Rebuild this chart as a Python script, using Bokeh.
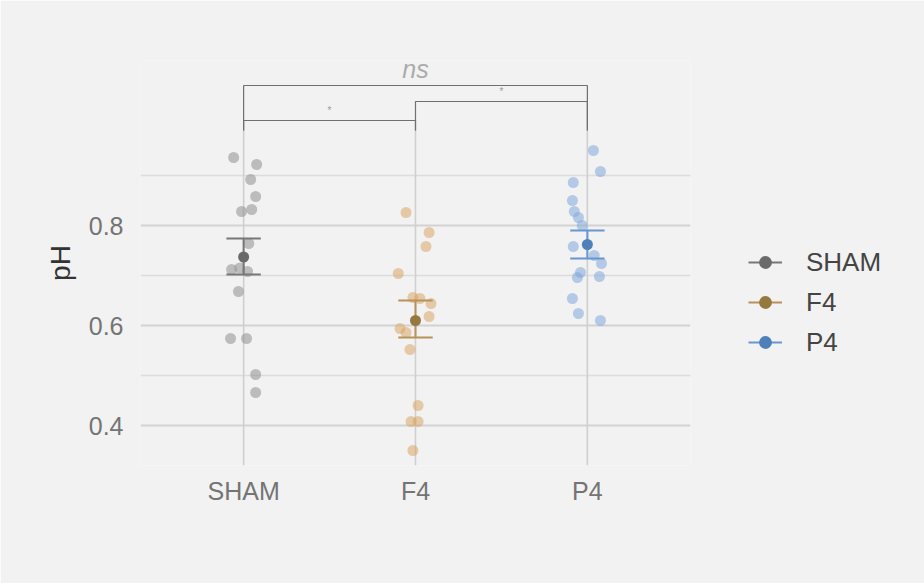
from bokeh.plotting import figure
from bokeh.models import FixedTicker, Range1d, Legend, LegendItem, ColumnDataSource
from bokeh.core.properties import value
from bokeh.embed import file_html
from bokeh.resources import INLINE

# ---------------- data ----------------
groups = ["SHAM", "F4", "P4"]

sham_ph = [0.936, 0.922, 0.892, 0.858, 0.828, 0.832, 0.764, 0.712, 0.715, 0.708,
           0.668, 0.574, 0.574, 0.502, 0.466]
sham_jitter = [-0.058, 0.076, 0.041, 0.070, -0.012, 0.047, 0.030, -0.070, -0.023,
               0.023, -0.030, -0.076, 0.017, 0.070, 0.070]

f4_ph = [0.826, 0.786, 0.758, 0.704, 0.656, 0.654, 0.644, 0.618, 0.594, 0.586,
         0.552, 0.440, 0.408, 0.408, 0.350]
f4_jitter = [-0.055, 0.079, 0.061, -0.100, -0.015, 0.026, 0.090, 0.079, -0.090,
             -0.055, -0.032, 0.015, -0.026, 0.015, -0.015]

p4_ph = [0.950, 0.908, 0.886, 0.850, 0.828, 0.816, 0.800, 0.758, 0.740, 0.724,
         0.706, 0.696, 0.698, 0.654, 0.624, 0.610]
p4_jitter = [0.035, 0.076, -0.082, -0.087, -0.076, -0.052, -0.030, -0.082, 0.040,
             0.082, -0.040, -0.058, 0.070, -0.087, -0.052, 0.076]

group_means = [0.737, 0.610, 0.762]
group_low = [0.702, 0.576, 0.734]
group_high = [0.774, 0.650, 0.790]

bracket_from = ["SHAM", "F4", "SHAM"]
bracket_to = ["F4", "P4", "P4"]
bracket_y = [1.010, 1.048, 1.080]
bracket_labels = ["*", "*", "ns"]

y_ticks = [0.4, 0.6, 0.8]
y_minor = [0.5, 0.7, 0.9]

# ---------------- styles ----------------
BG = "#f2f2f2"
FONT = "Liberation Sans"
point_colors = {"SHAM": "#8f8f8f", "F4": "#dba666", "P4": "#7fa8dc"}
mean_colors = {"SHAM": "#6a6a6a", "F4": "#96793f", "P4": "#4e80ba"}
bar_colors = {"SHAM": "#777777", "F4": "#b8925a", "P4": "#6796d0"}
pos = {g: i + 1 for i, g in enumerate(groups)}
cap_half = 0.1
tip_end = 0.99

p = figure(frame_width=550, frame_height=405, output_backend="svg",
           toolbar_location=None,
           x_range=Range1d(0.4, 3.6), y_range=Range1d(0.32, 1.13),
           min_border_left=140, min_border_right=234, min_border_top=60,
           min_border_bottom=118)
p.background_fill_color = BG
p.border_fill_color = BG
p.outline_line_color = None

# grids
p.xgrid.visible = False
p.ygrid.ticker = FixedTicker(ticks=y_ticks, minor_ticks=y_minor)
p.ygrid.grid_line_color = "#d2d2d2"
p.ygrid.grid_line_width = 2.2
p.ygrid.minor_grid_line_color = "#dcdcdc"
p.ygrid.minor_grid_line_width = 1.6

# vertical category lines
p.segment(x0=[pos[g] for g in groups], x1=[pos[g] for g in groups],
          y0=[0.32] * 3, y1=[tip_end] * 3, line_color="#cfcfcf", line_width=1.6)

# axes
p.xaxis.ticker = FixedTicker(ticks=[pos[g] for g in groups])
p.xaxis.major_label_overrides = {pos[g]: g for g in groups}
p.yaxis.ticker = FixedTicker(ticks=y_ticks)
p.yaxis.major_label_overrides = {t: f"{t:.1f}" for t in y_ticks}
for ax in (p.xaxis[0], p.yaxis[0]):
    ax.axis_line_color = None
    ax.major_tick_line_color = None
    ax.minor_tick_line_color = None
    ax.major_tick_out = 0
    ax.minor_tick_out = 0
    ax.major_label_text_font = FONT
    ax.major_label_text_font_size = "25px"
    ax.major_label_text_color = "#747474"
p.xaxis.major_label_standoff = 11
p.yaxis.major_label_standoff = 17
p.yaxis.axis_label = "pH"
p.yaxis.axis_label_text_font = FONT
p.yaxis.axis_label_text_font_size = "28px"
p.yaxis.axis_label_text_font_style = "normal"
p.yaxis.axis_label_text_color = "#333333"
p.yaxis.axis_label_standoff = 10

# significance brackets
for a, b, yb in zip(bracket_from, bracket_to, bracket_y):
    xa, xb = pos[a], pos[b]
    p.multi_line(xs=[[xa, xa, xb, xb]], ys=[[tip_end, yb, yb, tip_end]],
                 line_color="#707070", line_width=1.2)
lab_x = [(pos[a] + pos[b]) / 2 for a, b in zip(bracket_from, bracket_to)]
star_idx = [i for i, l in enumerate(bracket_labels) if l != "ns"]
ns_idx = [i for i, l in enumerate(bracket_labels) if l == "ns"]
p.text(x=[lab_x[i] for i in star_idx], y=[bracket_y[i] + 0.02 for i in star_idx],
       text=[bracket_labels[i] for i in star_idx], text_align="center",
       text_baseline="middle", text_font=value(FONT), text_font_size="10px",
       text_color="#9a9a9a")
p.text(x=[lab_x[i] for i in ns_idx], y=[bracket_y[i] + 0.006 for i in ns_idx],
       text=[bracket_labels[i] for i in ns_idx], text_align="center",
       text_baseline="bottom", text_font=value(FONT), text_font_size="25px",
       text_font_style="italic", text_color="#ababab")

# points
series = {"SHAM": (sham_ph, sham_jitter), "F4": (f4_ph, f4_jitter), "P4": (p4_ph, p4_jitter)}
for g in groups:
    vals, jit = series[g]
    src = ColumnDataSource(dict(x=[pos[g] + j for j in jit], y=vals))
    p.scatter("x", "y", source=src, size=11, fill_color=point_colors[g],
              fill_alpha=0.55, line_color=None)

# error bars and means
items = []
for i, g in enumerate(groups):
    c = pos[g]
    lo, hi, m = group_low[i], group_high[i], group_means[i]
    src = ColumnDataSource(dict(x0=[c, c - cap_half, c - cap_half],
                                x1=[c, c + cap_half, c + cap_half],
                                y0=[lo, lo, hi], y1=[hi, lo, hi]))
    seg = p.segment("x0", "y0", "x1", "y1", source=src, line_color=bar_colors[g],
                    line_width=2)
    dot = p.scatter(x=[c], y=[m], size=11, fill_color=mean_colors[g],
                    line_color=None)
    items.append(LegendItem(label=g, renderers=[seg, dot]))

legend = Legend(items=items, location=(58, 107), padding=0, margin=0,
                spacing=8, glyph_width=34, glyph_height=32, label_height=32,
                label_standoff=24, label_text_font=FONT, label_text_font_size="26px",
                label_text_color="#444444", background_fill_alpha=0,
                border_line_color=None)
p.add_layout(legend, "right")

open("out.html", "w").write(file_html(p, INLINE))
